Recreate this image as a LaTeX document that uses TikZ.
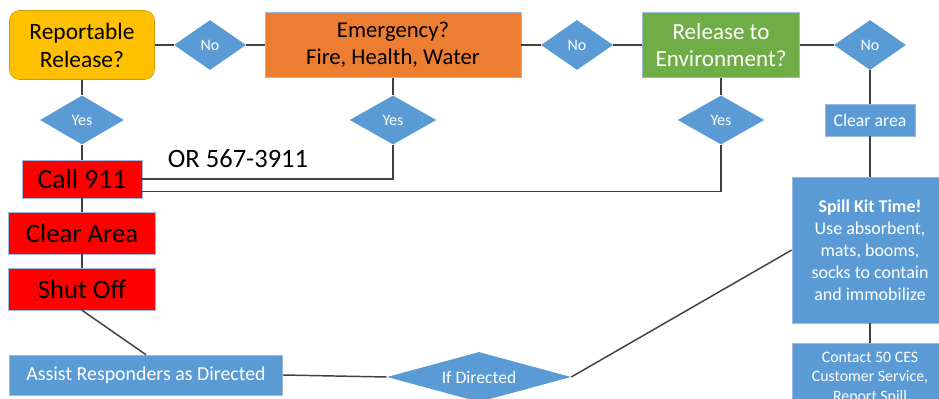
\documentclass[tikz,border=0pt]{standalone}
\usepackage{fontspec}
\setmainfont{Carlito}
\usetikzlibrary{shapes.geometric}

\definecolor{msblue}{HTML}{5B9BD5}
\definecolor{msorange}{HTML}{ED7D31}
\definecolor{msgreen}{HTML}{70AD47}
\definecolor{msgold}{HTML}{FFC000}
\definecolor{msline}{HTML}{404040}
\definecolor{msedge}{HTML}{9DB9E0}

\begin{document}
\begin{tikzpicture}[x=0.75pt, y=-0.75pt,
    flow/.style={draw=msline, line width=1.1pt},
    decision/.style={diamond, fill=msblue, text=white, inner sep=0pt,
        font=\fontsize{12}{14}\selectfont},
    stepbox/.style={rectangle, draw=msedge, line width=0.4pt, inner sep=0pt, align=center}]
    \clip (0, 0) rectangle (939, 399);

    % Top row of questions
    \node[stepbox, rounded corners=7.5pt, fill=msgold, draw=msgold!80!black,
        minimum width=108.75pt, minimum height=51.75pt,
        font=\fontsize{17.6}{21}\selectfont] (report) at (82, 45) {Reportable\\Release?};
    \node[decision, aspect=1.44, minimum width=54pt, minimum height=37.5pt] (no1) at (210, 45) {No};
    \node[stepbox, fill=msorange, minimum width=192pt, minimum height=48.75pt,
        font=\fontsize{17}{20.5}\selectfont] (emerg) at (393, 45) {Emergency?\\Fire, Health, Water};
    \node[decision, aspect=1.44, minimum width=54pt, minimum height=37.5pt] (no2) at (577, 45) {No};
    \node[stepbox, fill=msgreen, text=white, minimum width=117.75pt, minimum height=48.75pt,
        font=\fontsize{17.3}{20.5}\selectfont] (env) at (721, 45) {Release to\\Environment?};
    \node[decision, aspect=1.44, minimum width=54pt, minimum height=37.5pt] (no3) at (870, 45) {No};

    % Yes branches
    \node[decision, aspect=1.75, minimum width=63pt, minimum height=36.75pt] (yes1) at (82, 120) {Yes};
    \node[decision, aspect=1.75, minimum width=65pt, minimum height=36.75pt] (yes2) at (393, 120) {Yes};
    \node[decision, aspect=1.75, minimum width=65pt, minimum height=36.75pt] (yes3) at (721, 120) {Yes};
    \node[stepbox, fill=msblue, text=white, minimum width=67.5pt, minimum height=24pt,
        font=\fontsize{13.3}{16}\selectfont] (cleartop) at (870, 120) {Clear area};

    % Emergency actions
    \node[font=\fontsize{19.9}{24}\selectfont] (phone) at (238, 159) {OR 567-3911};
    \node[stepbox, fill=red, minimum width=90pt, minimum height=28.5pt,
        font=\fontsize{20.7}{24}\selectfont] (call) at (82, 179) {Call 911};
    \node[stepbox, fill=red, minimum width=110.25pt, minimum height=31.5pt,
        font=\fontsize{20}{24}\selectfont] (cleararea) at (82, 233) {Clear Area};
    \node[stepbox, fill=red, minimum width=110.25pt, minimum height=31.5pt,
        font=\fontsize{20}{24}\selectfont] (shutoff) at (82, 289) {Shut Off};

    % Bottom row
    \node[stepbox, fill=msblue, text=white, minimum width=204.75pt, minimum height=30pt,
        font=\fontsize{14.9}{18}\selectfont] (assist) at (146, 375) {Assist Responders as Directed};
    \node[decision, aspect=3.68, minimum width=138pt, minimum height=37.5pt,
        font=\fontsize{13.2}{16}\selectfont] (ifdir) at (479, 377) {If Directed};

    % Spill kit column
    \node[stepbox, fill=msblue, text=white, minimum width=117pt, minimum height=109.5pt,
        font=\fontsize{13.5}{16.5}\selectfont] (spill) at (870, 250)
        {\textbf{Spill Kit Time!}\\Use absorbent,\\mats, booms,\\socks to contain\\and immobilize};
    \node[stepbox, fill=msblue, text=white, minimum width=117pt, minimum height=52.5pt,
        font=\fontsize{11.9}{14.5}\selectfont] (contact) at (870, 378)
        {Contact 50 CES\\Customer Service,\\Report Spill};

    % Connectors
    \draw[flow] (report) -- (no1) -- (emerg) -- (no2) -- (env) -- (no3);
    \draw[flow] (no3) -- (cleartop) -- (spill) -- (contact);
    \draw[flow] (report) -- (yes1) -- (call) -- (cleararea) -- (shutoff);
    \draw[flow] (emerg) -- (yes2);
    \draw[flow] (env) -- (yes3);
    \draw[flow] (call.east) -| (yes2.south);
    \draw[flow] ([yshift=-9.5pt]call.east) -| (yes3.south);
    \draw[flow] (shutoff.south) -- (assist.north);
    \draw[flow] (assist.east) -- (ifdir.west);
    \draw[flow] (ifdir.east) -- (spill.west);
\end{tikzpicture}
\end{document}
